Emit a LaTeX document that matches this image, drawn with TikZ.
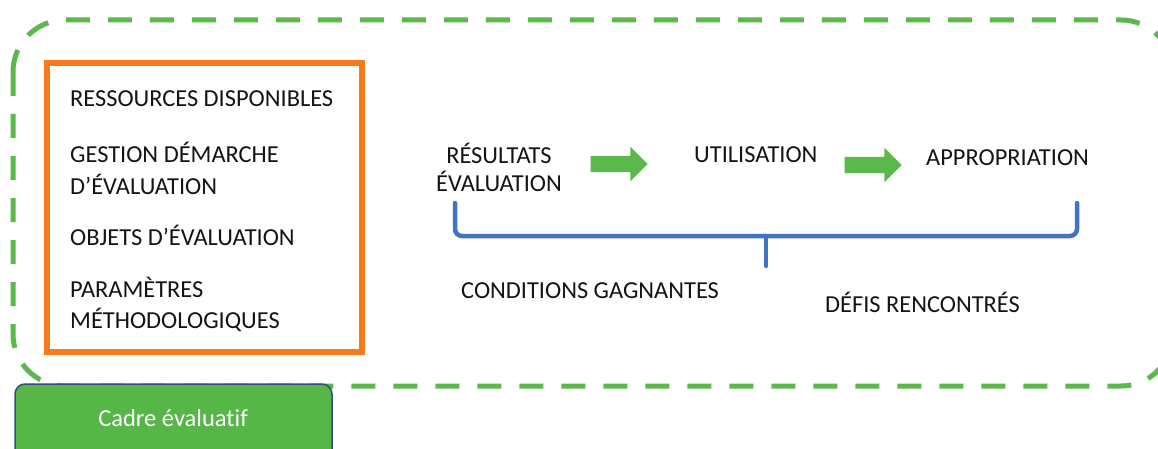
\documentclass[tikz,border=0pt]{standalone}
\usepackage{fontspec}
\setmainfont[Ligatures=NoCommon]{Carlito}
\usetikzlibrary{shapes.arrows}
\definecolor{dgreen}{HTML}{5BB84A}
\definecolor{orng}{HTML}{F77B1C}
\definecolor{bblue}{HTML}{4472C4}
\definecolor{btnfill}{HTML}{57B648}
\definecolor{btnline}{HTML}{2F4F80}
\definecolor{txt}{HTML}{141414}
\tikzset{
  lbl/.style={font=\fontsize{24.4}{31}\selectfont, text=txt, inner sep=0pt, align=left},
  frame/.style={draw=dgreen, line width=5pt, dash pattern=on 24pt off 18pt, rounded corners=52pt},
  obox/.style={draw=orng, line width=5.5pt},
  garrow/.style={single arrow, fill=dgreen, draw=none, minimum width=34pt, minimum height=57pt,
     single arrow head extend=9pt, single arrow tip angle=90, inner xsep=0pt, inner ysep=8pt,
     text height=0pt, text depth=0pt},
  brace/.style={draw=bblue, line width=4.5pt, rounded corners=7pt, line cap=round},
  btn/.style={draw=btnline, line width=1.5pt, fill=btnfill, rounded corners=10pt},
}
\begin{document}
\begin{tikzpicture}[x=1pt,y=-1pt]
\useasboundingbox (0,0) rectangle (1158,449);
\fill[white] (0,0) rectangle (1158,449);
% dashed frame
\draw[frame] (13,20) rectangle (1173,386);
% orange box
\draw[obox] (47,63) rectangle (362,352);
% left texts
\node[lbl, anchor=base west] (res) at (70,107) {RESSOURCES DISPONIBLES};
\node[lbl, anchor=base west] (ges1) at (70,163) {GESTION DÉMARCHE};
\node[lbl, anchor=base west] (ges2) at (70,194) {D’ÉVALUATION};
\node[lbl, anchor=base west] (obj) at (70,245) {OBJETS D’ÉVALUATION};
\node[lbl, anchor=base west] (par1) at (70,297) {PARAMÈTRES};
\node[lbl, anchor=base west] (par2) at (70,328) {MÉTHODOLOGIQUES};
% right texts
\node[lbl, anchor=base] (r1) at (499,164) {RÉSULTATS};
\node[lbl, anchor=base] (r2) at (499,192) {ÉVALUATION};
\node[lbl, anchor=base west] (uti) at (694,163) {UTILISATION};
\node[lbl, anchor=base west] (app) at (926,166) {APPROPRIATION};
\node[lbl, anchor=base west] (cond) at (461,298) {CONDITIONS GAGNANTES};
\node[lbl, anchor=base west] (defi) at (825,312) {DÉFIS RENCONTRÉS};
% arrows
\node[garrow] (a1) at (615,164) {};
\node[garrow] (a2) at (869,165) {};
% brace
\coordinate (bl) at (455,203);
\coordinate (br) at (1077,203);
\coordinate (bm) at (766,266);
\draw[brace] (bl) -- (455,236) -- (1077,236) -- (br);
\draw[brace] (766,236) -- (bm);
% button
\draw[btn] (15,384) rectangle (332,470);
\node[font=\fontsize{24.5}{28}\selectfont, text=white, inner sep=0pt] (cadre) at (173,418) {Cadre évaluatif};
\end{tikzpicture}
\end{document}
